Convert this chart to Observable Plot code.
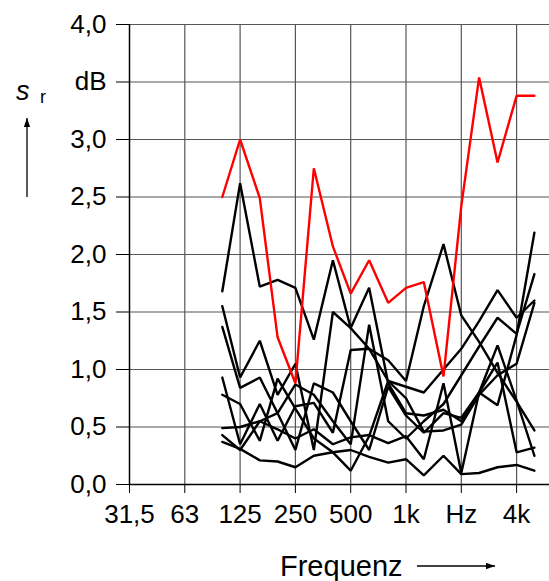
<!DOCTYPE html>
<html>
<head>
<meta charset="utf-8">
<script src="https://cdn.jsdelivr.net/npm/d3@7"></script>
<script src="https://cdn.jsdelivr.net/npm/@observablehq/plot@0.6"></script>
<style>
  html, body { margin: 0; padding: 0; background: #fff; }
  #chart { position: relative; width: 549px; height: 581px; overflow: hidden; }
</style>
</head>
<body>
<div id="chart"></div>
<script>
// Third-octave band centre frequencies (Hz)
const bandFreqs = [100, 125, 160, 200, 250, 315, 400, 500, 630, 800, 1000, 1250, 1600, 2000, 2500, 3150, 4000, 5000];

// Octave tick frequencies and labels
const xTicks = [31.25, 62.5, 125, 250, 500, 1000, 2000, 4000];
const xTickLabels = ["31,5", "63", "125", "250", "500", "1k", "Hz", "4k"];
const yTicks = [0, 0.5, 1.0, 1.5, 2.0, 2.5, 3.0, 3.5, 4.0];
const yTickLabels = ["0,0", "0,5", "1,0", "1,5", "2,0", "2,5", "3,0", "dB", "4,0"];

// Highlighted series (red)
const redSeries = [2.50, 3.00, 2.49, 1.28, 0.88, 2.75, 2.07, 1.66, 1.95, 1.58, 1.71, 1.76, 0.94, 2.42, 3.54, 2.80, 3.38, 3.38];

// Black series
const black1 = [1.68, 2.62, 1.72, 1.78, 1.71, 1.26, 1.95, 1.36, 1.71, 0.88, 0.62, 0.60, 0.65, 0.55, 0.80, 1.21, 0.73, 0.25];
const black2 = [1.55, 0.93, 1.25, 0.78, 1.05, 0.30, 1.50, 1.36, 1.18, 1.08, 0.90, 1.55, 2.09, 1.47, 1.24, 0.97, 0.72, 0.47];
const black3 = [1.37, 0.84, 0.93, 0.62, 0.87, 0.78, 0.55, 0.35, 1.39, 0.55, 0.40, 0.55, 0.70, 0.95, 1.20, 1.45, 1.31, 1.83];
const black4 = [0.93, 0.35, 0.70, 0.38, 0.68, 0.71, 0.45, 1.17, 1.18, 0.90, 0.85, 0.80, 1.00, 1.18, 1.42, 1.69, 1.45, 1.60];
const black5 = [0.78, 0.70, 0.38, 0.92, 0.66, 0.40, 0.28, 0.12, 0.42, 0.90, 0.75, 0.46, 0.47, 0.52, 0.78, 0.95, 1.05, 1.58];
const black6 = [0.49, 0.50, 0.55, 0.48, 0.40, 0.48, 0.35, 0.41, 0.43, 0.36, 0.42, 0.22, 0.88, 0.10, 0.80, 0.69, 1.30, 2.19];
const black7 = [0.43, 0.30, 0.55, 0.62, 0.30, 0.88, 0.80, 0.55, 0.30, 0.85, 0.60, 0.45, 0.62, 0.58, 0.80, 1.06, 0.28, 0.32];
const black8 = [0.37, 0.31, 0.21, 0.20, 0.15, 0.25, 0.28, 0.30, 0.24, 0.19, 0.22, 0.08, 0.25, 0.09, 0.10, 0.15, 0.17, 0.12];

const blackSeries = [black1, black2, black3, black4, black5, black6, black7, black8];

// position on the axis = octaves above 31,5 Hz
const oct = (f) => Math.log2(f / 31.25);
const toRows = (vals, id) => vals.map((v, i) => ({o: oct(bandFreqs[i]), v, id}));
const blackRows = blackSeries.flatMap((s, k) => toRows(s, "b" + k));
const redRows = toRows(redSeries, "red");
const xTickPos = xTicks.map(oct);

const W = 549, H = 581;
const mLeft = 129, mTop = 24, mBottom = 97, mRight = 0;
const octavePx = 55.3;
const xMax = (W - mLeft - mRight) / octavePx;

const font = "'Liberation Sans', Arial, sans-serif";

const plot = Plot.plot({
  width: W,
  height: H,
  marginLeft: mLeft,
  marginRight: mRight,
  marginTop: mTop,
  marginBottom: mBottom,
  style: {fontFamily: font, fontSize: "26px", background: "#fff", color: "#000", overflow: "visible"},
  x: {type: "linear", domain: [0, xMax]},
  y: {domain: [0, 4]},
  marks: [
    Plot.gridX(xTickPos.slice(1), {stroke: "#555", strokeOpacity: 1, strokeWidth: 1.2}),
    Plot.gridY(yTicks.slice(1), {stroke: "#555", strokeOpacity: 1, strokeWidth: 1.2}),
    Plot.axisX(xTickPos, {
      tickSize: 9, tickPadding: 11, stroke: "#000",
      tickFormat: (d, i) => xTickLabels[i],
      label: null, fontSize: 26
    }),
    Plot.axisY(yTicks, {
      tickSize: 13, tickPadding: 10, stroke: "#000",
      tickFormat: (d, i) => yTickLabels[i],
      label: null, fontSize: 26
    }),
    Plot.ruleX([0], {stroke: "#000", strokeWidth: 1.5}),
    Plot.ruleY([0], {stroke: "#000", strokeWidth: 1.5}),
    Plot.line(blackRows, {x: "o", y: "v", z: "id", stroke: "#000", strokeWidth: 2.4, strokeLinejoin: "miter"}),
    Plot.line(redRows, {x: "o", y: "v", stroke: "#ff0000", strokeWidth: 2.4, strokeLinejoin: "miter"})
  ]
});

document.getElementById("chart").appendChild(plot);

// Annotations (axis titles with arrows)
const svg = d3.select(plot);
const defs = svg.append("defs");
defs.append("marker")
  .attr("id", "arr").attr("viewBox", "0 0 10 10").attr("refX", 10).attr("refY", 5)
  .attr("markerWidth", 9).attr("markerHeight", 9).attr("orient", "auto-start-reverse")
  .attr("markerUnits", "userSpaceOnUse")
  .append("path").attr("d", "M0,1.5 L10,5 L0,8.5 Z").attr("fill", "#000");

const ann = svg.append("g").attr("font-family", font).attr("fill", "#000").attr("text-anchor", "start");
// s_r label
ann.append("text").attr("x", 16).attr("y", 100).attr("font-size", 27).attr("font-style", "italic").text("s");
ann.append("text").attr("x", 40).attr("y", 103).attr("font-size", 18).text("r");
ann.append("line").attr("x1", 27).attr("y1", 197).attr("x2", 27).attr("y2", 118)
  .attr("stroke", "#000").attr("stroke-width", 1.3).attr("marker-end", "url(#arr)");
// Frequenz label
ann.append("text").attr("x", 280).attr("y", 576).attr("font-size", 29).text("Frequenz");
ann.append("line").attr("x1", 417).attr("y1", 566).attr("x2", 495).attr("y2", 566)
  .attr("stroke", "#000").attr("stroke-width", 1.3).attr("marker-end", "url(#arr)");
</script>
</body>
</html>
